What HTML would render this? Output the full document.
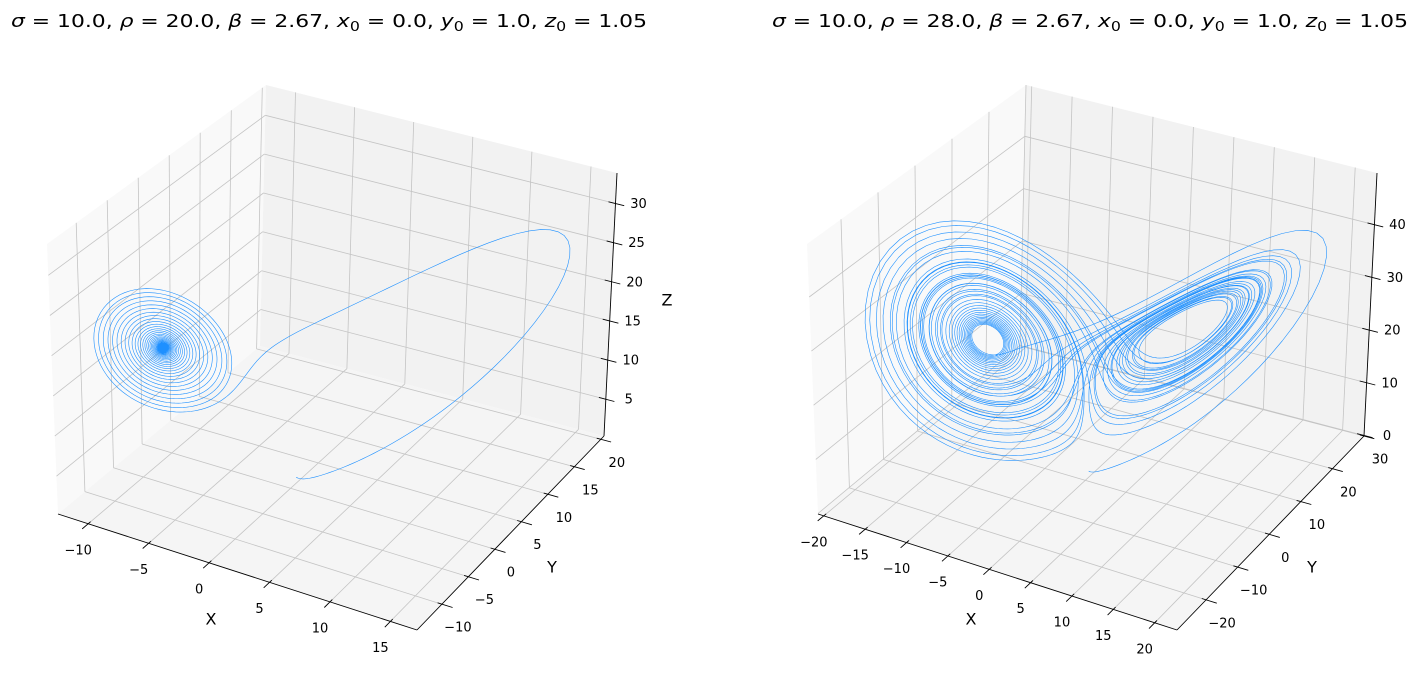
<!DOCTYPE html>
<html><head><meta charset="utf-8">
<style>
html,body{margin:0;padding:0;background:#fff;}
svg{display:block;font-family:"DejaVu Sans","Liberation Sans",sans-serif;}
</style></head>
<body>
<svg id="s" width="1420" height="680" viewBox="0 0 1420 680" xmlns="http://www.w3.org/2000/svg">
<text x="329" y="27" font-size="18" text-anchor="middle" textLength="636" lengthAdjust="spacingAndGlyphs"><tspan font-style="italic">σ</tspan> = 10.0,  <tspan font-style="italic">ρ</tspan> = 20.0,  <tspan font-style="italic">β</tspan> = 2.67,  <tspan font-style="italic">x</tspan><tspan font-size="13" dy="4">0</tspan><tspan dy="-4"> = 0.0,  </tspan><tspan font-style="italic">y</tspan><tspan font-size="13" dy="4">0</tspan><tspan dy="-4"> = 1.0,  </tspan><tspan font-style="italic">z</tspan><tspan font-size="13" dy="4">0</tspan><tspan dy="-4"> = 1.05</tspan></text>
<text x="1090" y="27" font-size="18" text-anchor="middle" textLength="636" lengthAdjust="spacingAndGlyphs"><tspan font-style="italic">σ</tspan> = 10.0,  <tspan font-style="italic">ρ</tspan> = 28.0,  <tspan font-style="italic">β</tspan> = 2.67,  <tspan font-style="italic">x</tspan><tspan font-size="13" dy="4">0</tspan><tspan dy="-4"> = 0.0,  </tspan><tspan font-style="italic">y</tspan><tspan font-size="13" dy="4">0</tspan><tspan dy="-4"> = 1.0,  </tspan><tspan font-style="italic">z</tspan><tspan font-size="13" dy="4">0</tspan><tspan dy="-4"> = 1.05</tspan></text>
<g id="p0"></g><g id="p1"></g>
</svg>
<script>
var NS="http://www.w3.org/2000/svg";
function el(p,t,a,txt){var e=document.createElementNS(NS,t);for(var k in a)e.setAttribute(k,a[k]);if(txt!=null)e.textContent=txt;p.appendChild(e);return e;}
function panel(gid,off,lim,ticks,rho,T,showZ){
  var g=document.getElementById(gid);
  var C={ '000':[58,514],'100':[417,630],'110':[604,436],'010':[260,346],
          '001':[47,244],'101':[421,352],'111':[617,173],'011':[266,85]};
  function P(x,y,z){
    var u=(x-lim[0])/(lim[1]-lim[0]),v=(y-lim[2])/(lim[3]-lim[2]),w=(z-lim[4])/(lim[5]-lim[4]);
    var r=[0,0];
    for(var a=0;a<2;a++)for(var b=0;b<2;b++)for(var c=0;c<2;c++){
      var wt=(a?u:1-u)*(b?v:1-v)*(c?w:1-w);var q=C[''+a+b+c];
      r[0]+=wt*q[0];r[1]+=wt*q[1];}
    return [r[0]+off,r[1]];
  }
  function poly(pts,fill){el(g,'polygon',{points:pts.map(function(p){return p[0].toFixed(1)+','+p[1].toFixed(1)}).join(' '),fill:fill});}
  var x0=lim[0],x1=lim[1],y0=lim[2],y1=lim[3],z0=lim[4],z1=lim[5];
  poly([P(x0,y0,z0),P(x0,y1,z0),P(x0,y1,z1),P(x0,y0,z1)],'#f9f9f9');
  poly([P(x0,y1,z0),P(x1,y1,z0),P(x1,y1,z1),P(x0,y1,z1)],'#f2f2f2');
  poly([P(x0,y0,z0),P(x1,y0,z0),P(x1,y1,z0),P(x0,y1,z0)],'#f5f5f5');
  function ln(a,b,col,w){el(g,'line',{x1:a[0].toFixed(1),y1:a[1].toFixed(1),x2:b[0].toFixed(1),y2:b[1].toFixed(1),stroke:col,'stroke-width':w});}
  var gc='#c4c4c4';
  ticks[0].forEach(function(t){ln(P(t,y0,z0),P(t,y1,z0),gc,0.8);ln(P(t,y1,z0),P(t,y1,z1),gc,0.8);});
  ticks[1].forEach(function(t){ln(P(x0,t,z0),P(x1,t,z0),gc,0.8);ln(P(x0,t,z0),P(x0,t,z1),gc,0.8);});
  ticks[2].forEach(function(t){ln(P(x0,y1,t),P(x1,y1,t),gc,0.8);ln(P(x0,y0,t),P(x0,y1,t),gc,0.8);});
  var s=10,b=2.67,dt=0.004,S=[0,1,1.05],pts=[];
  function f(q){return [s*(q[1]-q[0]),rho*q[0]-q[1]-q[0]*q[2],q[0]*q[1]-b*q[2]];}
  function add(q,k,h){return [q[0]+k[0]*h,q[1]+k[1]*h,q[2]+k[2]*h];}
  var n=Math.round(T/dt);
  for(var i=0;i<=n;i++){
    if(i%2==0){var p=P(S[0],S[1],S[2]);pts.push(p[0].toFixed(2)+','+p[1].toFixed(2));}
    var k1=f(S),k2=f(add(S,k1,dt/2)),k3=f(add(S,k2,dt/2)),k4=f(add(S,k3,dt));
    S=[S[0]+dt/6*(k1[0]+2*k2[0]+2*k3[0]+k4[0]),S[1]+dt/6*(k1[1]+2*k2[1]+2*k3[1]+k4[1]),S[2]+dt/6*(k1[2]+2*k2[2]+2*k3[2]+k4[2])];
  }
  el(g,'polyline',{points:pts.join(' '),fill:'none',stroke:'#1E90FF','stroke-width':0.6,'stroke-linejoin':'round'});
  ln(P(x0,y0,z0),P(x1,y0,z0),'#000',0.9);
  ln(P(x1,y0,z0),P(x1,y1,z0),'#000',0.9);
  ln(P(x1,y1,z0),P(x1,y1,z1),'#000',0.9);
  var ry=y1-y0,rx=x1-x0;
  ticks[0].forEach(function(t){var a=P(t,y0+0.012*ry,z0),c=P(t,y0-0.03*ry,z0);ln(a,c,'#000',0.9);
    var q=P(t,y0,z0);el(g,'text',{x:q[0]-10,y:q[1]+27,'font-size':13,'text-anchor':'middle','dominant-baseline':'central'},(t<0?'\u2212'+(-t):''+t));});
  ticks[1].forEach(function(t){var a=P(x1-0.012*rx,t,z0),c=P(x1+0.03*rx,t,z0);ln(a,c,'#000',0.9);
    var q=P(x1,t,z0);el(g,'text',{x:q[0]+16,y:q[1]+24,'font-size':13,'text-anchor':'middle','dominant-baseline':'central'},(t<0?'\u2212'+(-t):''+t));});
  ticks[2].forEach(function(t){var a=P(x1-0.02*rx,y1,t),c=P(x1+0.025*rx,y1,t);ln(a,c,'#000',0.9);
    var q=P(x1,y1,t);el(g,'text',{x:q[0]+23,y:q[1]+1,'font-size':13,'text-anchor':'middle','dominant-baseline':'central'},''+t);});
  el(g,'text',{x:211+off,y:619,'font-size':16,'text-anchor':'middle','dominant-baseline':'central'},'X');
  el(g,'text',{x:552+off,y:567,'font-size':16,'text-anchor':'middle','dominant-baseline':'central'},'Y');
  if(showZ)el(g,'text',{x:667+off,y:300,'font-size':16,'text-anchor':'middle','dominant-baseline':'central'},'Z');
}
panel('p0',0,[-12.5,17.2,-14.7,20.6,0.3,33.9],[[-10,-5,0,5,10,15],[-10,-5,0,5,10,15,20],[5,10,15,20,25,30]],20,45,true);
panel('p1',760,[-20.7,22.7,-29.2,30.0,-0.1,49.8],[[-20,-15,-10,-5,0,5,10,15,20],[-20,-10,0,10,20,30],[0,10,20,30,40]],28,45,false);
</script>
</body></html>
